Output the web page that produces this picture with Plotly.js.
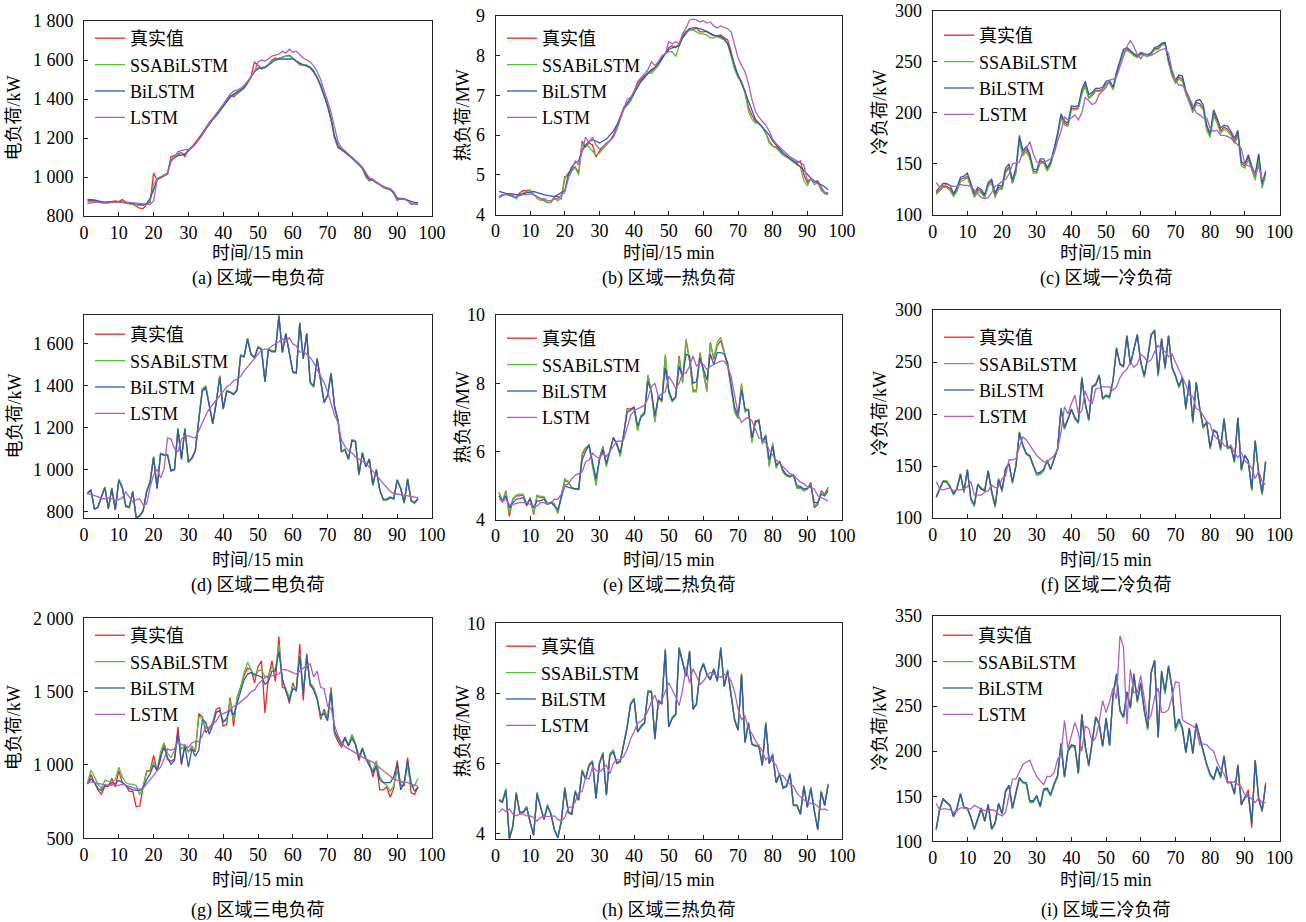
<!DOCTYPE html>
<html><head><meta charset="utf-8">
<script src="https://cdn.plot.ly/plotly-3.0.1.min.js"></script>
<style>body{margin:0;background:#fff}#chart{width:1306px;height:922px}</style>
</head><body><div id="chart"></div><script>
// time steps (15 min intervals)
const timeSteps = Array.from({length:96},(_,i)=>i+1);
const seriesNames = ['真实值','SSABiLSTM','BiLSTM','LSTM'];

// (a) 区域一电负荷 (kW)
const a_true = [880,880,878,875,872,870,872,875,876,874,885,870,865,860,850,840,838,860,870,1020,985,995,1005,1015,1105,1110,1120,1125,1105,1140,1155,1175,1200,1225,1255,1280,1300,1320,1345,1370,1395,1420,1410,1430,1445,1460,1490,1515,1590,1570,1555,1560,1575,1600,1610,1605,1615,1620,1625,1610,1590,1575,1575,1570,1560,1540,1510,1470,1420,1370,1300,1200,1150,1140,1130,1115,1100,1080,1065,1045,1000,980,990,970,960,945,940,935,915,880,890,890,880,860,865,858];
const a_ssa = [872,874,872,870,868,866,868,872,874,872,870,865,862,858,856,855,855,862,880,960,995,1000,1005,1015,1090,1105,1115,1120,1115,1135,1150,1170,1195,1220,1250,1275,1295,1315,1340,1365,1390,1410,1420,1425,1440,1455,1480,1510,1545,1560,1555,1560,1575,1595,1605,1610,1615,1620,1620,1610,1595,1580,1575,1575,1565,1545,1510,1465,1415,1360,1290,1200,1155,1140,1125,1112,1098,1080,1062,1042,1005,985,985,972,960,948,940,935,918,885,888,888,880,865,862,860];
const a_bi = [885,885,882,878,872,870,872,874,875,874,873,870,867,864,860,858,857,865,890,935,985,998,1008,1020,1085,1100,1110,1112,1118,1135,1150,1170,1195,1220,1248,1272,1295,1315,1340,1365,1390,1410,1425,1435,1445,1458,1485,1510,1540,1555,1560,1565,1575,1590,1600,1605,1605,1608,1608,1605,1595,1585,1575,1570,1560,1540,1510,1470,1420,1365,1295,1210,1160,1140,1128,1115,1100,1082,1065,1048,1010,990,982,972,962,950,942,936,920,890,886,886,880,872,870,868];
const a_lstm = [865,868,870,870,868,866,868,870,872,872,870,872,870,868,866,864,862,860,858,878,985,1000,1010,1015,1080,1100,1130,1135,1140,1140,1150,1168,1190,1215,1245,1278,1300,1322,1348,1372,1398,1425,1440,1445,1455,1470,1492,1515,1540,1590,1600,1595,1605,1620,1625,1630,1645,1635,1655,1640,1645,1625,1610,1600,1590,1570,1540,1500,1450,1390,1330,1260,1180,1150,1135,1120,1105,1088,1070,1050,1020,995,988,975,962,950,945,940,925,895,888,886,878,866,862,860];

// (b) 区域一热负荷 (MW)
const b_true = [4.45,4.5,4.5,4.52,4.48,4.42,4.55,4.6,4.6,4.62,4.5,4.45,4.4,4.35,4.3,4.3,4.45,4.45,4.4,4.95,5.0,5.15,5.2,5.05,5.85,5.7,5.8,5.75,5.45,5.6,5.7,5.8,5.85,6.0,6.2,6.45,6.7,6.8,6.9,7.1,7.3,7.4,7.5,7.55,7.6,7.7,7.8,7.95,8.05,8.2,8.25,8.2,8.3,8.5,8.6,8.65,8.65,8.7,8.6,8.6,8.62,8.55,8.5,8.5,8.52,8.45,8.4,8.1,7.7,7.5,7.35,7.1,6.7,6.5,6.35,6.3,6.2,6.05,5.85,5.72,5.7,5.6,5.5,5.45,5.4,5.35,5.3,5.35,5.0,4.8,4.9,4.8,4.85,4.65,4.55,4.5];
const b_ssa = [4.42,4.48,4.52,4.5,4.45,4.4,4.5,4.55,4.58,4.6,4.52,4.4,4.35,4.38,4.3,4.32,4.4,4.35,4.42,4.9,5.05,5.1,5.18,5.0,5.8,5.75,5.7,5.6,5.5,5.55,5.65,5.75,5.85,5.95,6.15,6.4,6.65,6.75,6.85,7.05,7.25,7.35,7.45,7.6,7.55,7.65,7.75,7.9,8.05,8.1,8.1,7.98,8.25,8.45,8.55,8.65,8.65,8.6,8.55,8.55,8.52,8.45,8.45,8.48,8.45,8.4,8.3,8.0,7.65,7.45,7.35,7.05,6.6,6.4,6.3,6.28,6.2,6.05,5.8,5.72,5.68,5.58,5.5,5.45,5.38,5.32,5.25,5.2,4.85,4.72,4.9,4.75,4.8,4.6,4.52,4.5];
const b_bi = [4.58,4.55,4.53,4.52,4.52,4.5,4.5,4.52,4.55,4.56,4.58,4.55,4.52,4.5,4.48,4.46,4.45,4.5,4.55,4.6,5.0,5.2,5.3,5.35,5.6,5.75,5.85,5.88,5.85,5.8,5.85,5.9,6.0,6.1,6.25,6.45,6.65,6.8,6.92,7.05,7.2,7.35,7.45,7.55,7.65,7.7,7.8,7.92,8.05,8.15,8.2,8.22,8.25,8.45,8.6,8.68,8.7,8.7,8.68,8.65,8.6,8.55,8.52,8.5,8.48,8.42,8.3,8.05,7.75,7.5,7.3,7.1,6.85,6.6,6.4,6.3,6.2,6.1,6.0,5.85,5.75,5.65,5.55,5.48,5.42,5.35,5.28,5.2,5.1,5.0,4.92,4.85,4.8,4.75,4.7,4.62];
const b_lstm = [4.45,4.5,4.5,4.48,4.45,4.45,4.48,4.5,4.5,4.52,4.5,4.45,4.4,4.4,4.35,4.35,4.4,4.4,4.5,4.55,4.9,5.1,5.35,5.25,5.6,5.95,5.8,5.95,5.75,5.65,5.7,5.8,5.85,5.95,6.15,6.4,6.7,6.9,6.95,7.1,7.35,7.45,7.55,7.65,7.85,7.75,7.85,8.0,8.05,8.35,8.3,8.35,8.3,8.55,8.7,8.9,8.92,8.9,8.85,8.88,8.82,8.85,8.75,8.7,8.75,8.72,8.68,8.6,8.3,7.95,7.75,7.6,7.3,6.9,6.6,6.45,6.35,6.25,6.1,5.9,5.78,5.7,5.6,5.52,5.45,5.4,5.35,5.3,5.25,4.85,4.9,4.82,4.78,4.7,4.55,4.55];

// (c) 区域一冷负荷 (kW)
const c_true = [121,125,128,128,126,119,125,135,136,138,130,118,125,123,118,130,133,118,127,126,143,147,131,143,175,160,165,157,143,142,153,152,144,150,163,178,197,190,188,205,204,205,220,228,215,218,222,222,223,229,230,223,238,250,260,262,260,257,255,258,257,256,258,263,263,267,268,250,238,230,235,233,220,212,202,210,209,205,185,178,200,192,182,186,184,180,172,180,150,148,157,145,137,157,128,141];
const c_ssa = [120,124,127,127,124,118,123,133,134,137,128,117,123,121,117,128,131,117,125,125,141,146,132,141,172,158,162,155,141,141,151,151,143,149,161,176,195,188,187,203,203,204,218,226,214,217,221,221,222,228,229,223,237,249,259,261,259,256,254,257,256,255,257,262,262,266,267,249,236,229,233,231,218,210,200,208,207,203,183,176,197,190,180,184,182,178,170,177,148,146,154,143,134,154,126,140];
const c_bi = [123,127,131,131,129,121,127,137,138,141,132,121,127,125,120,132,135,121,129,128,146,150,134,146,178,163,167,160,145,144,155,155,146,152,165,180,199,192,190,207,206,207,223,231,218,220,224,224,225,231,232,225,240,252,262,264,261,258,256,259,258,257,259,264,265,268,269,252,240,232,237,236,222,214,204,212,213,208,188,180,203,195,185,188,187,182,175,183,152,150,159,148,140,160,131,143];
const c_lstm = [132,127,129,130,129,128,128,130,129,129,128,124,120,117,116,117,122,128,130,133,135,140,150,151,152,162,165,172,160,152,150,152,153,155,160,172,182,196,193,195,198,193,200,215,212,208,210,218,222,225,232,233,235,245,255,265,271,265,257,253,258,256,256,258,260,262,263,258,242,232,227,227,222,215,208,200,198,195,195,185,182,183,178,178,177,175,172,168,165,150,148,147,139,148,135,135];

// (d) 区域二电负荷 (kW)
const d_true = [885,905,810,820,870,915,815,910,805,950,915,825,820,895,770,775,800,895,940,1060,910,1075,1070,1070,995,1000,1195,1050,1195,1035,1055,1090,1240,1380,1395,1300,1220,1320,1445,1290,1375,1370,1360,1380,1545,1540,1625,1550,1535,1585,1575,1420,1575,1565,1565,1735,1560,1650,1555,1465,1460,1700,1530,1650,1415,1395,1530,1420,1320,1355,1460,1300,1235,1085,1095,1050,1140,1135,975,1080,1015,1050,925,1000,900,855,855,865,860,950,910,840,955,850,840,860];
const d_ssa = [880,902,808,822,872,917,818,912,808,955,918,828,822,898,772,778,803,900,945,1062,915,1078,1072,1072,998,1002,1198,1052,1198,1032,1058,1092,1245,1385,1400,1302,1222,1322,1448,1292,1378,1372,1362,1382,1548,1542,1628,1552,1538,1588,1578,1422,1578,1568,1568,1738,1562,1652,1558,1462,1458,1702,1532,1652,1412,1392,1532,1418,1318,1358,1462,1298,1238,1082,1098,1052,1142,1138,972,1082,1018,1052,922,1002,898,852,852,862,862,952,912,838,958,848,838,858];
const d_bi = [887,900,812,818,868,912,812,908,810,948,912,822,818,892,768,780,805,892,938,1058,908,1072,1068,1068,992,998,1192,1048,1192,1038,1052,1088,1238,1375,1390,1298,1218,1318,1442,1288,1372,1368,1358,1378,1542,1538,1622,1548,1532,1582,1572,1418,1572,1562,1562,1732,1558,1648,1552,1468,1462,1698,1528,1648,1418,1398,1528,1422,1322,1352,1458,1302,1232,1088,1092,1048,1138,1132,978,1078,1012,1048,928,998,902,858,858,868,858,948,908,842,952,852,842,862];
const d_lstm = [885,880,875,870,860,860,865,860,855,855,865,892,870,845,855,860,830,835,915,975,1000,960,1000,1150,1145,1100,1085,1145,1160,1160,1155,1150,1185,1225,1260,1290,1310,1330,1350,1375,1395,1405,1425,1430,1445,1470,1490,1510,1530,1550,1570,1575,1575,1590,1600,1610,1625,1610,1630,1600,1590,1560,1565,1550,1535,1510,1480,1450,1415,1370,1320,1260,1225,1140,1110,1090,1080,1060,1050,1040,1030,1010,990,975,955,930,910,895,885,882,880,878,875,872,870,865];

// (e) 区域二热负荷 (MW)
const e_true = [4.8,4.5,4.85,4.1,4.6,4.7,4.7,4.72,4.4,4.65,4.15,4.7,4.65,4.65,4.45,4.5,4.45,4.2,4.7,5.15,5.1,4.95,4.9,4.9,5.9,6.1,6.15,5.6,5.05,5.8,6.15,5.6,6.05,6.4,6.25,5.9,6.5,7.25,7.25,7.3,6.65,7.05,7.15,8.2,7.75,6.9,7.6,7.45,8.8,7.75,7.5,7.6,8.8,8.05,9.25,8.65,7.8,7.8,8.9,8.4,7.8,9.2,8.7,9.1,9.25,8.9,8.5,7.9,7.2,7.0,7.95,7.2,7.2,6.3,6.9,6.9,6.25,6.45,5.6,6.2,5.55,5.7,5.4,5.3,5.25,5.3,4.95,4.95,4.85,4.9,5.1,4.35,4.45,4.85,4.75,4.95];
const e_ssa = [4.78,4.55,4.82,4.2,4.62,4.72,4.75,4.75,4.45,4.62,4.2,4.72,4.68,4.68,4.48,4.52,4.48,4.18,4.72,5.2,5.12,4.95,4.9,4.88,5.95,6.12,6.18,5.55,5.0,5.82,6.12,5.55,6.02,6.42,6.22,5.85,6.48,7.22,7.22,7.28,6.6,7.05,7.12,8.25,7.72,6.85,7.62,7.45,8.85,7.72,7.45,7.58,8.75,8.0,9.3,8.7,7.75,7.75,8.85,8.35,7.75,9.15,8.75,9.2,9.35,8.95,8.55,7.85,7.15,6.95,8.0,7.15,7.25,6.25,6.85,6.95,6.2,6.5,5.55,6.25,5.5,5.72,5.38,5.28,5.25,5.32,4.92,4.92,4.85,4.9,5.05,4.4,4.5,4.82,4.72,4.92];
const e_bi = [4.7,4.55,4.7,4.35,4.5,4.6,4.62,4.65,4.45,4.6,4.35,4.55,4.55,4.6,4.45,4.5,4.4,4.3,4.65,5.0,4.95,4.92,4.9,4.9,5.75,6.0,6.2,5.7,5.2,5.75,6.05,5.65,6.0,6.4,6.2,5.95,6.5,7.15,7.2,7.3,6.75,7.0,7.1,8.05,7.75,7.05,7.6,7.5,8.45,7.8,7.5,7.6,8.5,8.2,8.85,8.8,8.0,8.05,8.75,8.4,8.1,8.85,8.55,8.9,8.9,8.85,8.6,7.95,7.3,7.05,7.8,7.25,7.2,6.4,6.85,6.9,6.3,6.45,5.75,6.15,5.6,5.7,5.45,5.32,5.28,5.3,5.0,4.98,4.9,4.92,5.0,4.5,4.5,4.75,4.7,4.85];
const e_lstm = [4.6,4.55,4.6,4.45,4.45,4.48,4.5,4.5,4.5,4.45,4.4,4.4,4.5,4.5,4.45,4.5,4.6,4.6,4.75,5.0,5.05,5.2,5.3,5.35,5.4,5.7,5.75,5.95,5.85,5.8,5.95,5.85,6.0,6.15,6.3,6.3,6.35,6.7,7.05,7.2,7.25,7.3,7.35,7.55,7.9,8.0,7.6,7.7,7.75,8.2,8.05,7.85,8.0,8.3,8.3,8.5,8.8,8.5,8.6,8.55,8.4,8.5,8.55,8.6,8.65,8.65,8.5,8.2,7.6,7.1,6.85,6.95,7.0,6.9,6.65,6.4,6.35,6.25,6.05,5.9,5.75,5.65,5.55,5.45,5.35,5.3,5.2,5.1,5.05,4.95,4.95,4.9,4.7,4.65,4.6,4.55];

// (f) 区域二冷负荷 (kW)
const f_true = [120,128,135,135,130,123,128,142,125,146,118,112,132,128,126,145,125,111,137,126,147,152,134,150,182,170,162,160,150,142,143,146,155,147,157,166,205,186,195,204,196,192,235,210,194,226,228,237,215,218,216,232,263,248,246,275,248,262,276,250,236,254,276,280,237,272,244,275,245,237,226,235,205,232,192,230,205,187,192,167,184,182,166,195,167,168,154,196,146,160,155,127,174,143,123,154];
const f_ssa = [121,129,136,136,131,122,129,143,124,147,117,111,133,129,127,146,124,110,138,125,148,153,133,151,183,169,161,159,149,141,142,145,156,146,158,167,206,185,196,205,195,191,236,209,193,227,229,238,214,217,215,233,264,247,245,276,247,263,277,249,235,255,277,281,236,273,243,276,244,236,225,236,204,233,191,231,204,186,193,166,185,183,165,196,166,169,153,197,145,161,154,126,175,142,122,155];
const f_bi = [120,128,135,135,130,123,128,142,126,146,119,113,132,128,126,145,126,112,137,127,147,152,135,150,182,170,162,160,150,143,144,147,155,147,157,166,205,187,195,204,197,192,234,210,195,226,228,237,215,218,217,232,263,248,246,275,248,262,276,250,237,254,276,280,238,272,245,275,245,237,227,235,206,232,193,230,206,188,192,168,184,182,167,195,168,168,155,196,147,160,155,128,174,144,124,154];
const f_lstm = [135,128,127,128,129,126,127,127,128,130,135,122,122,122,125,126,132,129,130,138,140,156,156,157,168,178,175,170,165,160,157,154,154,157,160,166,182,207,200,210,218,200,203,222,213,210,224,225,226,226,226,223,226,235,240,243,250,245,248,257,255,250,252,260,266,262,260,255,258,250,242,235,228,218,217,205,204,198,193,190,180,176,175,170,168,170,163,158,163,155,152,148,138,145,135,132];

// (g) 区域三电负荷 (kW)
const g_true = [870,935,880,830,800,855,855,910,850,960,880,860,820,820,715,720,850,960,960,1065,960,1040,1150,1040,1025,1040,1260,1000,1140,1090,1110,1090,1350,1330,1220,1250,1290,1380,1390,1265,1275,1460,1265,1460,1530,1610,1660,1650,1560,1670,1710,1355,1600,1710,1570,1875,1530,1520,1420,1560,1500,1825,1440,1760,1540,1520,1450,1310,1380,1320,1530,1210,1160,1120,1180,1130,1200,1140,1030,1110,1040,1020,920,1000,830,830,850,780,840,1030,860,860,1050,810,800,850];
const g_ssa = [880,965,920,870,840,895,890,880,900,985,920,880,870,870,860,795,850,955,955,1020,960,1090,1150,1080,1050,1100,1180,1110,1130,1090,1130,1100,1330,1320,1250,1260,1280,1360,1370,1300,1300,1440,1300,1460,1530,1630,1700,1650,1600,1640,1650,1600,1610,1670,1650,1820,1580,1520,1460,1540,1520,1760,1500,1720,1560,1530,1460,1330,1360,1330,1510,1220,1180,1140,1180,1140,1210,1150,1060,1120,1050,1010,960,1030,920,880,860,820,860,960,880,880,990,850,860,910];
const g_bi = [870,905,880,840,825,860,860,880,870,895,880,860,840,830,830,825,845,900,940,1000,960,1060,1120,1050,1005,1030,1220,1010,1130,985,1110,1060,1100,1310,1290,1210,1270,1360,1370,1290,1320,1380,1340,1420,1500,1580,1620,1630,1620,1610,1600,1550,1570,1640,1640,1775,1590,1500,1440,1520,1510,1740,1490,1740,1550,1510,1450,1340,1350,1300,1500,1230,1180,1140,1190,1130,1180,1140,1050,1110,1040,1000,950,990,900,880,880,880,920,1010,830,880,1030,880,820,850];
const g_lstm = [880,885,880,875,865,860,860,865,860,860,870,860,850,845,840,835,840,870,905,935,960,985,1040,1110,1100,1110,1160,1140,1130,1120,1150,1160,1160,1200,1260,1240,1280,1300,1340,1350,1360,1380,1400,1410,1430,1450,1470,1500,1510,1550,1570,1595,1600,1610,1615,1620,1650,1650,1640,1630,1620,1640,1660,1680,1690,1600,1640,1530,1520,1400,1390,1270,1200,1150,1125,1110,1100,1080,1065,1050,1040,1030,1020,1000,980,960,940,920,905,895,890,890,880,870,862,855];

// (h) 区域三热负荷 (MW)
const h_true = [4.95,4.9,5.25,3.85,4.2,5.15,4.6,4.6,4.75,4.3,3.95,5.15,4.75,4.4,4.8,4.55,4.1,3.88,4.35,5.3,4.6,4.55,5.2,4.95,5.8,5.55,5.95,6.05,5.0,6.0,6.3,5.1,6.25,6.35,6.0,6.05,6.55,7.05,7.7,7.85,6.9,7.05,7.15,8.05,8.05,6.7,7.8,7.7,9.25,7.05,7.3,7.4,9.3,8.9,8.5,9.2,7.55,7.7,8.6,8.85,8.55,8.4,8.7,8.35,9.3,8.2,8.65,7.95,7.25,6.95,8.55,6.6,7.15,6.55,6.5,6.5,5.95,7.15,6.0,6.25,5.45,5.7,5.3,5.35,5.7,4.8,4.8,4.55,5.35,4.75,5.3,4.65,4.1,5.2,4.8,5.4];
const h_ssa = [4.97,4.92,5.28,3.88,4.22,5.18,4.62,4.62,4.78,4.32,3.97,5.18,4.77,4.42,4.83,4.57,4.12,3.9,4.37,5.32,4.62,4.58,5.23,4.97,5.82,5.58,5.98,6.08,5.02,6.03,6.32,5.12,6.28,6.38,6.03,6.07,6.57,7.08,7.72,7.87,6.92,7.08,7.18,8.08,8.07,6.72,7.82,7.72,9.28,7.08,7.33,7.42,9.32,8.92,8.52,9.22,7.58,7.72,8.62,8.87,8.57,8.42,8.72,8.37,9.32,8.22,8.68,7.97,7.27,6.97,8.58,6.62,7.18,6.57,6.52,6.52,5.97,7.17,6.02,6.28,5.47,5.72,5.32,5.37,5.72,4.82,4.82,4.57,5.37,4.77,5.32,4.67,4.12,5.22,4.82,5.42];
const h_bi = [4.94,4.88,5.23,3.84,4.19,5.13,4.58,4.59,4.73,4.29,3.94,5.12,4.73,4.39,4.78,4.54,4.09,3.87,4.34,5.28,4.59,4.54,5.18,4.94,5.78,5.54,5.93,6.03,4.99,5.98,6.27,5.09,6.22,6.33,5.99,6.04,6.53,7.03,7.68,7.83,6.89,7.04,7.14,8.03,8.04,6.69,7.78,7.69,9.22,7.04,7.28,7.38,9.28,8.88,8.48,9.18,7.54,7.68,8.58,8.83,8.53,8.38,8.68,8.34,9.28,8.19,8.63,7.94,7.24,6.94,8.52,6.59,7.14,6.54,6.49,6.49,5.94,7.13,5.99,6.23,5.44,5.69,5.29,5.34,5.68,4.79,4.79,4.54,5.33,4.74,5.28,4.64,4.12,5.18,4.79,5.38];
const h_lstm = [4.6,4.7,4.62,4.7,4.55,4.5,4.55,4.55,4.5,4.5,4.45,4.35,4.45,4.5,4.48,4.5,4.5,4.4,4.35,4.45,4.75,4.75,4.9,5.15,5.2,5.6,5.55,5.9,5.8,5.75,5.85,5.95,5.7,6.0,6.1,6.1,6.2,6.4,6.7,6.9,7.15,7.2,7.3,7.5,7.75,7.95,7.65,7.8,8.05,8.3,8.1,7.9,7.65,8.1,8.75,8.3,8.7,8.5,8.25,8.35,8.5,8.6,8.55,8.5,8.45,8.55,8.5,8.35,8.05,7.55,7.25,7.35,7.0,6.85,6.65,6.5,6.35,6.1,6.2,6.05,5.95,5.65,5.65,5.5,5.4,5.35,5.15,5.05,4.95,4.9,4.85,4.85,4.75,4.68,4.7,4.65];

// (i) 区域三冷负荷 (kW)
const i_true = [113,135,147,143,140,127,136,153,137,136,126,113,124,137,122,141,113,120,142,130,155,162,136,154,170,165,164,144,144,150,138,157,158,151,163,172,208,171,200,206,206,175,241,205,183,210,238,230,205,236,206,262,285,245,237,265,248,285,255,275,245,225,287,301,215,288,265,294,270,225,235,225,198,225,197,230,215,200,185,174,168,182,171,194,165,165,152,184,140,148,157,115,190,146,133,165];
const i_ssa = [112,134,146,143,139,127,135,152,137,136,126,113,123,136,122,140,113,119,141,130,154,161,136,153,169,165,163,143,143,149,138,156,157,150,162,171,206,171,199,205,204,175,239,204,184,209,236,229,205,235,206,261,284,244,237,264,247,284,254,273,244,223,286,300,216,287,263,293,269,222,233,224,198,224,197,229,214,199,184,173,168,181,170,193,165,165,152,183,141,148,150,120,188,148,134,162];
const i_bi = [114,136,147,144,140,128,137,153,138,137,127,114,125,137,123,141,114,121,142,131,156,162,137,155,171,166,165,145,145,151,139,158,159,152,164,173,209,172,201,207,206,176,241,206,185,211,238,231,206,237,207,263,286,246,238,266,249,286,256,276,246,226,288,301,216,289,266,295,271,226,236,226,199,226,198,231,216,201,186,175,169,183,172,195,166,166,153,185,141,149,152,120,190,147,134,162];
const i_lstm = [142,135,136,136,135,132,134,137,137,136,136,140,138,135,134,134,135,134,130,128,132,150,169,169,177,185,188,190,180,172,167,163,172,172,176,191,196,234,203,218,232,220,200,228,225,210,215,232,256,243,255,270,258,328,316,230,291,265,265,284,260,233,240,260,270,243,243,246,260,277,276,235,232,230,228,225,207,208,207,203,200,188,180,175,165,165,166,163,160,152,150,147,143,148,143,143];

const yTitles = ['电负荷/kW','热负荷/MW','冷负荷/kW','电负荷/kW','热负荷/MW','冷负荷/kW','电负荷/kW','热负荷/MW','冷负荷/kW'];
const captions = ['(a) 区域一电负荷','(b) 区域一热负荷','(c) 区域一冷负荷','(d) 区域二电负荷','(e) 区域二热负荷','(f) 区域二冷负荷','(g) 区域三电负荷','(h) 区域三热负荷','(i) 区域三冷负荷'];
const xTitle = '时间/15 min';
const panelData = [
  [a_true,a_ssa,a_bi,a_lstm],[b_true,b_ssa,b_bi,b_lstm],[c_true,c_ssa,c_bi,c_lstm],
  [d_true,d_ssa,d_bi,d_lstm],[e_true,e_ssa,e_bi,e_lstm],[f_true,f_ssa,f_bi,f_lstm],
  [g_true,g_ssa,g_bi,g_lstm],[h_true,h_ssa,h_bi,h_lstm],[i_true,i_ssa,i_bi,i_lstm]
];
const yRanges = [[800,1800],[4,9],[100,300],[768,1738],[4,10],[100,300],[500,2000],[3.83,10],[100,350]];
const yDticks = [200,1,50,200,2,50,500,2,50];
const yTick0 = [800,4,100,800,4,100,500,4,100];

// ---- layout geometry (pixels) ----
const W = 1306, H = 922;
const colX = [[84,432],[495.5,842],[932.7,1279.5]];
const boxY = [[21,216],[16,214.5],[10.7,215],[315,518],[315,519.7],[310,518],[618.3,838.3],[623.3,839.3],[616,841.3]];
const legTop = [42,42,39,338,342,341,639,650,639];
const legLeft = [100,512,949,100,512,949,100,511,948];
const yTitleX = [14,463,880];
const xTitleY = [253,253,253,560,560,560,880,880,880];
const capY = [278,278,278,585,585,585,910,910,910];

const colors = ['#f22424','#52c23a','#2a5cb3','#b25ec0'];
const serif = '"Liberation Serif","Times New Roman","Noto Sans CJK SC",serif';
const FS = 18;

const traces = [];
const layout = {
  width: W, height: H, margin:{l:0,r:0,t:0,b:0},
  paper_bgcolor:'#fff', plot_bgcolor:'#fff',
  separators: '. ',
  font:{family:serif,size:FS,color:'#000'},
  annotations: [], showlegend:true
};
for (let k=0;k<9;k++){
  const suf = k===0?'':String(k+1);
  const col = k%3;
  const [x0,x1] = colX[col];
  const [t,b] = boxY[k];
  for (let s=0;s<4;s++){
    traces.push({
      x: timeSteps, y: panelData[k][s], type:'scatter', mode:'lines',
      name: seriesNames[s], xaxis:'x'+suf, yaxis:'y'+suf, legend:'legend'+suf,
      line:{color:colors[s], width:1.3}, hoverinfo:'skip'
    });
  }
  const axCommon = {showline:true, mirror:true, linecolor:'#222', linewidth:1,
    ticks:'inside', ticklen:4, tickcolor:'#222', showgrid:false, zeroline:false,
    tickfont:{family:serif,size:FS,color:'#000'}, fixedrange:true};
  layout['xaxis'+suf] = Object.assign({}, axCommon, {
    domain:[x0/W, x1/W], anchor:'y'+suf, range:[0,100], dtick:10, tick0:0});
  layout['yaxis'+suf] = Object.assign({}, axCommon, {
    domain:[1-b/H, 1-t/H], anchor:'x'+suf, range:yRanges[k], dtick:yDticks[k], tick0:yTick0[k],
    separatethousands:true, ticklabelstandoff:6});
  layout['legend'+suf] = {
    x:(legLeft[k]-10)/W, y:1-(legTop[k]-22)/H, xanchor:'left', yanchor:'top',
    bgcolor:'rgba(0,0,0,0)', borderwidth:0, itemwidth:30, tracegroupgap:0,
    font:{family:serif,size:FS,color:'#000'}
  };
  layout.annotations.push({text:yTitles[k], x:yTitleX[col]/W, y:1-((t+b)/2)/H, xref:'paper', yref:'paper',
    textangle:-90, showarrow:false, xanchor:'center', yanchor:'middle', font:{family:serif,size:FS,color:'#000'}});
  layout.annotations.push({text:xTitle, x:((x0+x1)/2)/W, y:1-xTitleY[k]/H, xref:'paper', yref:'paper',
    showarrow:false, xanchor:'center', yanchor:'middle', font:{family:serif,size:FS,color:'#000'}});
  layout.annotations.push({text:captions[k], x:((x0+x1)/2)/W, y:1-capY[k]/H, xref:'paper', yref:'paper',
    showarrow:false, xanchor:'center', yanchor:'middle', font:{family:serif,size:FS,color:'#000'}});
}
Plotly.newPlot('chart', traces, layout, {staticPlot:true, displayModeBar:false});
</script></body></html>
